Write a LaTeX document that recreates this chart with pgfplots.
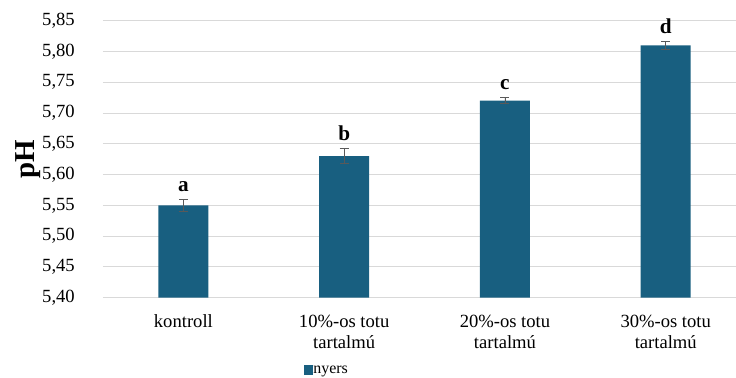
\documentclass[border=0pt]{standalone}
\usepackage{pgfplots}
\pgfplotsset{compat=1.18}
\usepackage{pgfplotstable}
\usepackage{fontspec}
\setmainfont{Liberation Serif}

\definecolor{barcol}{RGB}{24,95,128}
\definecolor{gridcol}{RGB}{217,217,217}
\definecolor{errcol}{RGB}{89,89,89}

% treatment, mean pH, standard deviation, significance letter
\pgfplotstableread{
x  y     e      lbl
0  5.55  0.010  a
1  5.63  0.012  b
2  5.72  0.005  c
3  5.81  0.006  d
}\phdata

\begin{document}
\begin{tikzpicture}
\useasboundingbox (-103bp,-80.3bp) rectangle (633bp,297.7bp);
\begin{axis}[
  at={(0,0)}, anchor=south west,
  scale only axis,
  width=633bp, height=277bp,
  xmin=-0.5, xmax=3.437,
  ymin=5.40, ymax=5.85,
  ytick={5.40,5.45,...,5.86},
  xtick={0,1,2,3},
  xticklabels={kontroll,{10\%-os totu\\tartalmú},{20\%-os totu\\tartalmú},{30\%-os totu\\tartalmú}},
  axis lines*=left,
  y axis line style={draw=none},
  x axis line style={draw=gridcol, line width=1bp},
  major tick length=0pt,
  ymajorgrids,
  major grid style={draw=gridcol, line width=1bp},
  /pgf/number format/.cd, assume math mode=true, fixed, fixed zerofill, precision=2, use comma,
  /pgfplots/.cd,
  yticklabel style={font=\fontsize{18.67}{22}\selectfont, inner sep=0pt, anchor=east, xshift=-28bp},
  xticklabel style={font=\fontsize{18.67}{21.6}\selectfont, align=center, inner sep=0pt, anchor=north, yshift=-17bp},
  ylabel={\textbf{pH}},
  ylabel style={font=\fontsize{29}{32}\selectfont, at={(axis description cs:-0.1185,0.5)}, anchor=center},
  legend style={draw=none, fill=none, inner sep=0pt, outer sep=0pt,
    at={(axis description cs:0.3175,-0.261)}, anchor=west,
    font=\fontsize{16}{18}\selectfont,
    nodes={inner sep=0pt},
    /tikz/every even column/.append style={column sep=2bp}},
  legend image code/.code={\fill[barcol] (0bp,-4.7bp) rectangle (9.4bp,4.7bp);},
]
\addplot[ybar, bar width=50bp, bar shift=0pt, fill=barcol, draw=none,
  error bars/.cd, y dir=both, y explicit,
  error bar style={color=errcol, line width=0.9bp},
  error mark options={rotate=90, mark size=4.5bp, line width=0.9bp, color=errcol}]
  table[x=x, y=y, y error=e] {\phdata};
\addlegendentry{nyers}
\addplot[draw=none, mark=none, forget plot,
  nodes near coords, point meta=explicit symbolic,
  nodes near coords style={anchor=south, inner sep=0pt, yshift=7.5bp,
    font=\fontsize{21.3}{24}\selectfont\bfseries, text=black}]
  table[x=x, y expr=\thisrow{y}+\thisrow{e}, meta=lbl] {\phdata};
\end{axis}
\end{tikzpicture}
\end{document}
